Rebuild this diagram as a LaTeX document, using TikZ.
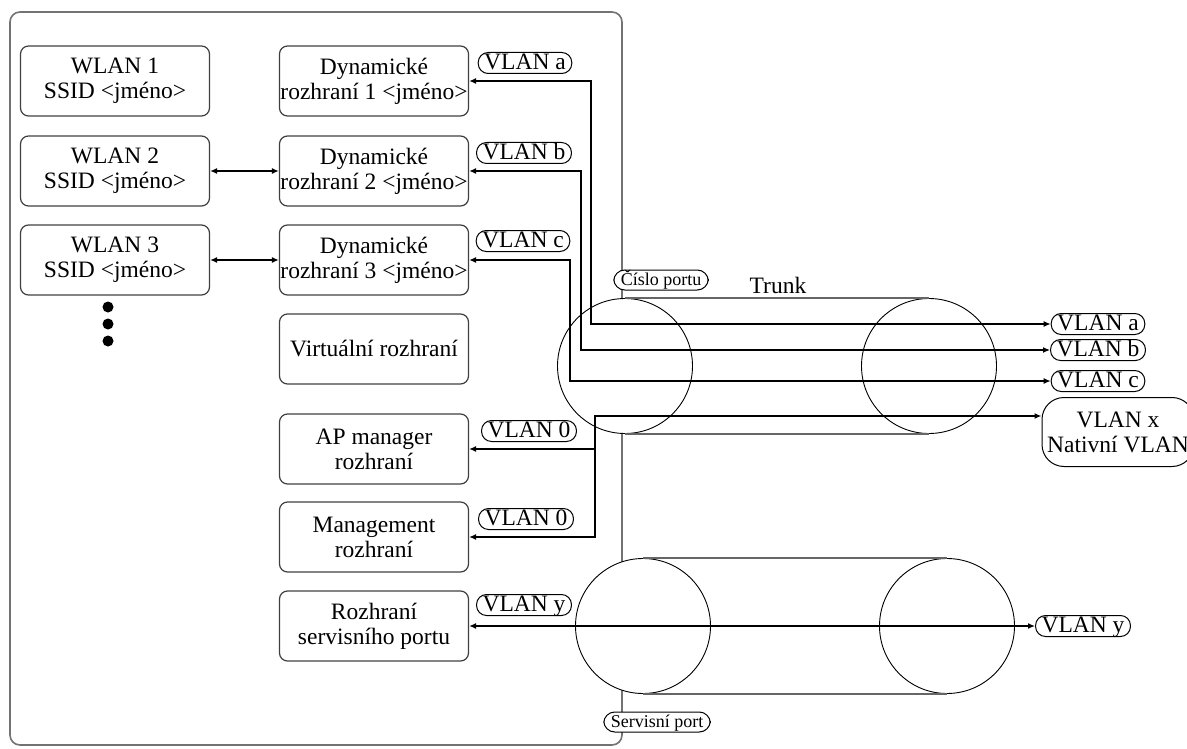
\documentclass[tikz,border=0pt]{standalone}
\usepackage{fontspec}
\setmainfont{Liberation Serif}
\usetikzlibrary{arrows.meta,positioning,calc}

\begin{document}
\begin{tikzpicture}[
  x=1pt,y=-1pt,>={Latex[length=7pt,width=6pt]},
  link/.style={<->,line width=1.6pt},
  feed/.style={->,line width=1.6pt},
  iface/.style={draw=black!75,line width=1.2pt,rounded corners=8pt,
    minimum width=189pt,minimum height=70pt,align=center,inner sep=1pt},
  tag/.style={draw,line width=1pt,rounded corners=10pt,inner xsep=6pt,
    inner ysep=1pt,text height=16pt,text depth=3pt,fill=white},
  porttag/.style={tag,font=\fontsize{18}{20}\selectfont,inner xsep=7pt,
    text height=14pt,text depth=4pt,rounded corners=11pt},
  native/.style={draw,line width=1pt,rounded corners=22pt,fill=white,
    minimum width=152pt,minimum height=69pt,align=center,inner sep=1pt},
  port/.style={draw,circle,line width=0.9pt,fill=white,inner sep=0pt,
    minimum size=135pt},
  pipeline/.style={draw=black!60,line width=1.2pt},
  every node/.style={font=\fontsize{23.5}{25}\selectfont}
]
  \useasboundingbox (0,0) rectangle (1187,749);
  \draw[black!55,line width=1.6pt,rounded corners=10pt] (10,12) rectangle (622,745);
  \node[iface] (w1) at (115,81) {WLAN 1\\SSID <jméno>};
  \node[iface] (w2) at (115,171) {WLAN 2\\SSID <jméno>};
  \node[iface] (w3) at (115,260) {WLAN 3\\SSID <jméno>};
  \fill (108,307) circle[radius=5.5pt] (108,324) circle[radius=5.5pt]
    (108,341) circle[radius=5.5pt];
  \node[iface] (d1) at (374,81) {Dynamické\\rozhraní 1 <jméno>};
  \node[iface] (d2) at (374,171) {Dynamické\\rozhraní 2 <jméno>};
  \node[iface] (d3) at (374,260) {Dynamické\\rozhraní 3 <jméno>};
  \node[iface] (virt) at (374,349) {Virtuální rozhraní};
  \node[iface] (apm) at (374,449) {AP manager\\rozhraní};
  \node[iface] (mgmt) at (374,537) {Management\\rozhraní};
  \node[iface] (serv) at (374,626) {Rozhraní\\servisního portu};
  \node[port] (tl) at (625,366) {};
  \node[port] (tr) at (929,366) {};
  \draw[pipeline] (tl.north) -- (tr.north) (tl.south) -- (tr.south);
  \node[port] (sl) at (643,626) {};
  \node[port] (sr) at (947,626) {};
  \draw[pipeline] (sl.north) -- (sr.north) (sl.south) -- (sr.south);
  \node[porttag] (cport) at (661,280) {Číslo portu};
  \node (trunk) at (778,285) {Trunk};
  \node[porttag] (sport) at (657,722) {Servisní port};
  \node[tag] (la) at (525,63) {VLAN a};
  \node[tag] (lb) at (524,153) {VLAN b};
  \node[tag] (lc) at (523,241) {VLAN c};
  \node[tag] (l0a) at (529,431) {VLAN 0};
  \node[tag] (l0b) at (526,519) {VLAN 0};
  \node[tag] (ly) at (524,605) {VLAN y};
  \node[tag] (ra) at (1098,324) {VLAN a};
  \node[tag] (rb) at (1098,350) {VLAN b};
  \node[tag] (rc) at (1098,381) {VLAN c};
  \node[native] (rx) at (1118,432) {VLAN x\\Nativní VLAN};
  \node[tag] (ry) at (1083,626) {VLAN y};
  \coordinate (tap) at (594.5,449);
  \draw[link] (w2) -- (d2);
  \draw[link] (w3) -- (d3);
  \draw[link] (d1.east) -- ++(122,0) |- (ra.west);
  \draw[link] (d2.east) -- ++(112,0) |- (rb.west);
  \draw[link] (d3.east) -- ++(101,0) |- (rc.west);
  \draw[link] (mgmt.east) -- ++(126,0) |- ([yshift=16pt]rx.west);
  \draw[feed] (tap) -- (apm.east);
  \draw[link] (serv) -- (ry);
\end{tikzpicture}
\end{document}
